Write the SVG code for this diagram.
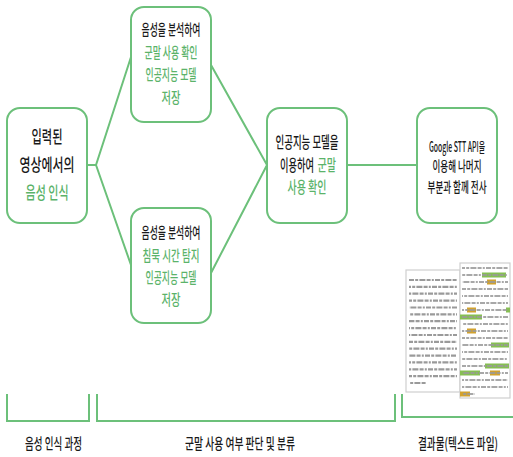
<svg xmlns="http://www.w3.org/2000/svg" width="513" height="457" viewBox="0 0 513 457">
<style>
.box{fill:#fff;stroke:#6cc07a;stroke-width:2}
.conn{stroke:#6cc07a;stroke-width:2;fill:none}
.t{font-family:"Noto Sans CJK KR","Noto Sans",sans-serif;font-size:16px;font-weight:500;fill:#1a1a1a;text-anchor:middle}
.st{text-anchor:start}
.s17{font-size:17px}
.s15{font-size:15px}
.s14{font-size:14px}
.g{fill:#5bb36a}
.doc{fill:#fff;stroke:#cfcfcf;stroke-width:1.2}
.tl{stroke:#9a9a9a;stroke-width:2.2;stroke-dasharray:5 1.2 3 1.2 6 1.2 4 1.2 2 1.2}
.ho{fill:#d2a22e}
.hg{fill:#86bf52}
</style>
<rect width="513" height="457" fill="#fff"/>
<g id="connectors">
<path class="conn" d="M87 165 H96 L131 57 M96 165 L131 265"/>
<path class="conn" d="M211 65 L267 165 L211 273"/>
<path class="conn" d="M347 165 H417"/>
</g>
<g id="node-input">
<rect class="box" x="7" y="108" width="80" height="115" rx="13"/>
<g transform="translate(47 0) scale(0.65 1)">
<text class="t s17" x="0" y="143" textLength="47.7" lengthAdjust="spacingAndGlyphs">입력된</text>
<text class="t s17" x="0" y="171" textLength="84.6" lengthAdjust="spacingAndGlyphs">영상에서의</text>
<text class="t s17 g" x="0" y="199" textLength="66.2" lengthAdjust="spacingAndGlyphs">음성 인식</text>
</g>
</g>
<g id="node-model-filler">
<rect class="box" x="131" y="7" width="80" height="115" rx="13"/>
<g transform="translate(171 0) scale(0.65 1)">
<text class="t s15" x="0" y="35" textLength="90.8" lengthAdjust="spacingAndGlyphs">음성을 분석하여</text>
<text class="t s15 g" x="0" y="58" textLength="81.5" lengthAdjust="spacingAndGlyphs">군말 사용 확인</text>
<text class="t s15 g" x="0" y="80" textLength="78.5" lengthAdjust="spacingAndGlyphs">인공지능 모델</text>
<text class="t s15 g" x="0" y="103" textLength="29.2" lengthAdjust="spacingAndGlyphs">저장</text>
</g>
</g>
<g id="node-model-silence">
<rect class="box" x="131" y="208" width="80" height="115" rx="13"/>
<g transform="translate(171 0) scale(0.65 1)">
<text class="t s15" x="0" y="238" textLength="90.8" lengthAdjust="spacingAndGlyphs">음성을 분석하여</text>
<text class="t s15 g" x="0" y="261" textLength="87.7" lengthAdjust="spacingAndGlyphs">침묵 시간 탐지</text>
<text class="t s15 g" x="0" y="283" textLength="78.5" lengthAdjust="spacingAndGlyphs">인공지능 모델</text>
<text class="t s15 g" x="0" y="305" textLength="29.2" lengthAdjust="spacingAndGlyphs">저장</text>
</g>
</g>
<g id="node-classify">
<rect class="box" x="267" y="108" width="80" height="115" rx="13"/>
<g transform="translate(307 0) scale(0.65 1)">
<text class="t" x="0" y="148" textLength="96.9" lengthAdjust="spacingAndGlyphs">인공지능 모델을</text>
<text class="t g" x="0" y="193" textLength="60" lengthAdjust="spacingAndGlyphs">사용 확인</text>
</g>
<g transform="translate(280 0) scale(0.65 1)">
<text class="t st" x="0" y="171" textLength="52.3" lengthAdjust="spacingAndGlyphs">이용하여</text>
</g>
<g transform="translate(317.5 0) scale(0.65 1)">
<text class="t st g" x="0" y="171" textLength="28.5" lengthAdjust="spacingAndGlyphs">군말</text>
</g>
</g>
<g id="node-stt">
<rect class="box" x="417" y="108" width="80" height="115" rx="13"/>
<g transform="translate(457 0) scale(0.65 1)">
<text class="t s14" x="0" y="152" textLength="86.2" lengthAdjust="spacingAndGlyphs">Google STT API을</text>
<text class="t s14" x="0" y="171" textLength="75.4" lengthAdjust="spacingAndGlyphs">이용해 나머지</text>
<text class="t s14" x="0" y="192" textLength="90.8" lengthAdjust="spacingAndGlyphs">부분과 함께 전사</text>
</g>
</g>
<g id="result-document">
<rect class="doc" x="406" y="270" width="54" height="122"/>
<rect class="doc" x="460" y="263" width="50" height="135"/>
<g class="tl">
<line x1="409" y1="280" x2="457" y2="280"/>
<line x1="409" y1="286.9" x2="457" y2="286.9" stroke-dashoffset="3"/>
<line x1="409" y1="293.7" x2="457" y2="293.7" stroke-dashoffset="7"/>
<line x1="409" y1="300.6" x2="457" y2="300.6" stroke-dashoffset="2"/>
<line x1="409" y1="307.5" x2="457" y2="307.5" stroke-dashoffset="9"/>
<line x1="409" y1="314.4" x2="457" y2="314.4" stroke-dashoffset="5"/>
<line x1="409" y1="321.2" x2="457" y2="321.2" stroke-dashoffset="11"/>
<line x1="409" y1="328.1" x2="457" y2="328.1" stroke-dashoffset="4"/>
<line x1="409" y1="335" x2="457" y2="335" stroke-dashoffset="8"/>
<line x1="409" y1="341.8" x2="457" y2="341.8" stroke-dashoffset="1"/>
<line x1="409" y1="348.7" x2="457" y2="348.7" stroke-dashoffset="6"/>
<line x1="409" y1="355.6" x2="457" y2="355.6" stroke-dashoffset="10"/>
<line x1="409" y1="362.4" x2="457" y2="362.4" stroke-dashoffset="3"/>
<line x1="409" y1="369.3" x2="457" y2="369.3" stroke-dashoffset="7"/>
<line x1="409" y1="376.2" x2="457" y2="376.2" stroke-dashoffset="2"/>
<line x1="409" y1="383" x2="426" y2="383" stroke-dashoffset="5"/>
</g>
<rect class="hg" x="482" y="272.5" width="24" height="5"/>
<rect class="ho" x="487" y="279.5" width="9" height="5"/>
<rect class="ho" x="467" y="307.5" width="9" height="5"/>
<rect class="hg" x="506" y="307.5" width="4" height="5"/>
<rect class="hg" x="460" y="314.5" width="22" height="5"/>
<rect class="ho" x="467" y="328.5" width="9" height="5"/>
<rect class="hg" x="491" y="342.5" width="18" height="5"/>
<rect class="hg" x="485" y="363.5" width="24" height="5"/>
<rect class="hg" x="460" y="370.5" width="20" height="5"/>
<rect class="ho" x="490" y="370.5" width="10" height="5"/>
<rect class="ho" x="460" y="391.5" width="10" height="5"/>
<g class="tl" opacity="0.85">
<line x1="462" y1="268" x2="508" y2="268" stroke-dashoffset="2"/>
<line x1="462" y1="275" x2="508" y2="275" stroke-dashoffset="6"/>
<line x1="462" y1="282" x2="508" y2="282" stroke-dashoffset="9"/>
<line x1="462" y1="289" x2="508" y2="289" stroke-dashoffset="1"/>
<line x1="462" y1="296" x2="508" y2="296" stroke-dashoffset="4"/>
<line x1="462" y1="303" x2="508" y2="303" stroke-dashoffset="8"/>
<line x1="462" y1="310" x2="508" y2="310" stroke-dashoffset="3"/>
<line x1="462" y1="317" x2="508" y2="317" stroke-dashoffset="11"/>
<line x1="462" y1="324" x2="508" y2="324" stroke-dashoffset="5"/>
<line x1="462" y1="331" x2="508" y2="331" stroke-dashoffset="7"/>
<line x1="462" y1="338" x2="508" y2="338" stroke-dashoffset="2"/>
<line x1="462" y1="345" x2="508" y2="345" stroke-dashoffset="10"/>
<line x1="462" y1="352" x2="508" y2="352" stroke-dashoffset="4"/>
<line x1="462" y1="359" x2="508" y2="359" stroke-dashoffset="6"/>
<line x1="462" y1="366" x2="508" y2="366" stroke-dashoffset="1"/>
<line x1="462" y1="373" x2="508" y2="373" stroke-dashoffset="9"/>
<line x1="462" y1="380" x2="508" y2="380" stroke-dashoffset="3"/>
<line x1="462" y1="387" x2="508" y2="387" stroke-dashoffset="7"/>
<line x1="462" y1="394" x2="475" y2="394" stroke-dashoffset="5"/>
</g>
</g>
<g id="brackets">
<path class="conn" d="M7 394 V421 H89 V394"/>
<path class="conn" d="M97 394 V421 H395 V394"/>
<path class="conn" d="M402 394 V417 H513"/>
</g>
<g id="labels">
<g transform="translate(53.5 0) scale(0.65 1)">
<text class="t s15" x="0" y="449" textLength="87.7" lengthAdjust="spacingAndGlyphs">음성 인식 과정</text>
</g>
<g transform="translate(240 0) scale(0.65 1)">
<text class="t s15" x="0" y="449" textLength="169.2" lengthAdjust="spacingAndGlyphs">군말 사용 여부 판단 및 분류</text>
</g>
<g transform="translate(458 0) scale(0.65 1)">
<text class="t s15" x="0" y="449" textLength="123.1" lengthAdjust="spacingAndGlyphs">결과물(텍스트 파일)</text>
</g>
</g>
</svg>
